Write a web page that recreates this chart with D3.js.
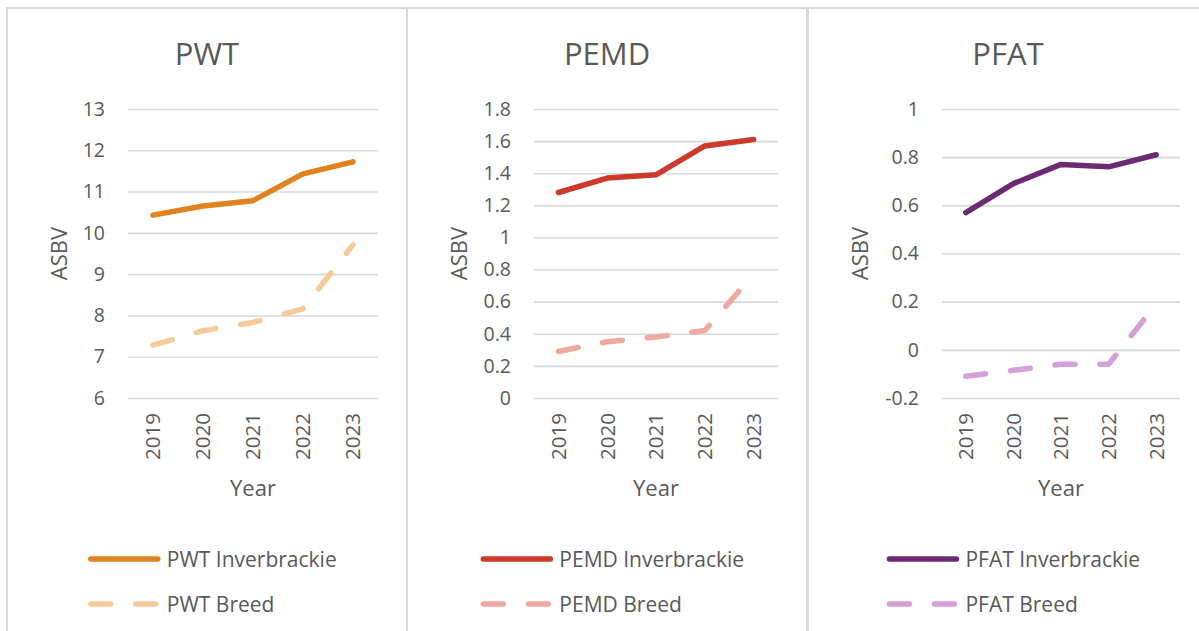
<!DOCTYPE html>
<html>
<head>
<meta charset="utf-8">
<script src="https://cdn.jsdelivr.net/npm/d3@7"></script>
<style>
  html, body { margin: 0; padding: 0; background: #fff; }
  svg { display: block; }
  text { font-family: "Open Sans", Lato, sans-serif; fill: #595959; }
</style>
</head>
<body>
<svg id="chart" width="1199" height="631"></svg>
<script>
// Year categories shared by all three panels
const years = ["2019", "2020", "2021", "2022", "2023"];

// Post-weaning weight (PWT)
const pwtInverbrackie = [10.43, 10.65, 10.78, 11.43, 11.72];
const pwtBreed = [7.28, 7.63, 7.83, 8.16, 9.71];

// Post-weaning eye muscle depth (PEMD)
const pemdInverbrackie = [1.28, 1.37, 1.39, 1.57, 1.61];
const pemdBreed = [0.29, 0.35, 0.38, 0.42, 0.77];

// Post-weaning fat (PFAT)
const pfatInverbrackie = [0.57, 0.69, 0.77, 0.76, 0.81];
const pfatBreed = [-0.11, -0.085, -0.06, -0.06, 0.19];

// Axis ticks per panel
const pwtTicks = [6, 7, 8, 9, 10, 11, 12, 13];
const pemdTicks = [0, 0.2, 0.4, 0.6, 0.8, 1, 1.2, 1.4, 1.6, 1.8];
const pfatTicks = [-0.2, 0, 0.2, 0.4, 0.6, 0.8, 1];

const panels = [
  { title: "PWT", ticks: pwtTicks, inv: pwtInverbrackie, breed: pwtBreed,
    invColor: "#e0821f", breedColor: "#f7ca9b" },
  { title: "PEMD", ticks: pemdTicks, inv: pemdInverbrackie, breed: pemdBreed,
    invColor: "#cd392a", breedColor: "#efa9a1" },
  { title: "PFAT", ticks: pfatTicks, inv: pfatInverbrackie, breed: pfatBreed,
    invColor: "#6b2b73", breedColor: "#d59fd8" }
];

// Layout: panel boxes and plot-area offsets inside each box
const panelLeft = [7, 407, 808];
const panelWidth = 400;
const plotOffset = [[121, 371], [127, 371], [134, 372]];
const plotTop = 109, plotBottom = 398;
const FONT = "'Open Sans', Lato, sans-serif";

const svg = d3.select("#chart");
svg.append("rect").attr("width", 1199).attr("height", 631).attr("fill", "#fff");

const fmt = v => String(+v.toFixed(2));

panels.forEach((p, i) => {
  const left = panelLeft[i];
  const cx = left + panelWidth / 2;
  const g = svg.append("g");

  // panel border
  g.append("rect")
    .attr("x", left).attr("y", 8)
    .attr("width", panelWidth).attr("height", 700)
    .attr("fill", "none").attr("stroke", "#d9d9d9").attr("stroke-width", 2);

  const x = d3.scaleBand()
    .domain(years)
    .range([left + plotOffset[i][0], left + plotOffset[i][1]]);
  const y = d3.scaleLinear()
    .domain(d3.extent(p.ticks))
    .range([plotBottom, plotTop]);

  // gridlines and value labels
  const yAxis = d3.axisLeft(y).tickValues(p.ticks).tickFormat(fmt)
    .tickSize(-(x.range()[1] - x.range()[0])).tickPadding(23);
  const ya = g.append("g")
    .attr("transform", `translate(${x.range()[0]},0)`)
    .call(yAxis);
  ya.select(".domain").remove();
  ya.selectAll(".tick line").attr("stroke", "#d9d9d9").attr("stroke-width", 1.6);
  ya.selectAll(".tick text")
    .attr("fill", "#595959").attr("font-size", 19.5)
    .attr("font-family", FONT);

  // year labels, rotated
  const xa = g.append("g")
    .attr("transform", `translate(0,${plotBottom})`)
    .call(d3.axisBottom(x).tickSize(0).tickPadding(0));
  xa.select(".domain").remove();
  xa.selectAll(".tick text")
    .attr("fill", "#595959").attr("font-size", 20.5)
    .attr("font-family", FONT)
    .attr("text-anchor", "end")
    .attr("transform", "translate(0,15) rotate(-90)")
    .attr("x", 0).attr("y", 0).attr("dy", "0.36em");

  // titles
  g.append("text")
    .attr("x", cx).attr("y", 65)
    .attr("text-anchor", "middle").attr("font-size", 31)
    .text(p.title);

  g.append("text")
    .attr("transform", `translate(${left + 52},${(plotTop + plotBottom) / 2}) rotate(-90)`)
    .attr("text-anchor", "middle").attr("dy", "0.36em").attr("font-size", 22)
    .text("ASBV");

  g.append("text")
    .attr("x", (x.range()[0] + x.range()[1]) / 2).attr("y", 496)
    .attr("text-anchor", "middle").attr("font-size", 22)
    .text("Year");

  // series lines
  const line = d3.line()
    .x((d, j) => x(years[j]) + x.bandwidth() / 2)
    .y(d => y(d));

  g.append("path")
    .datum(p.breed)
    .attr("d", line)
    .attr("fill", "none").attr("stroke", p.breedColor)
    .attr("stroke-width", 5.5)
    .attr("stroke-linecap", "round").attr("stroke-linejoin", "round")
    .attr("stroke-dasharray", "20,25");

  g.append("path")
    .datum(p.inv)
    .attr("d", line)
    .attr("fill", "none").attr("stroke", p.invColor)
    .attr("stroke-width", 5.5)
    .attr("stroke-linecap", "round").attr("stroke-linejoin", "round");

  // legend
  const leg = g.append("g");
  const entries = [
    { name: `${p.title} Inverbrackie`, color: p.invColor, dash: null, y: 559 },
    { name: `${p.title} Breed`, color: p.breedColor, dash: "20,25", y: 604 }
  ];
  entries.forEach(e => {
    leg.append("line")
      .attr("x1", 0).attr("x2", 67).attr("y1", e.y).attr("y2", e.y)
      .attr("stroke", e.color).attr("stroke-width", 5.5)
      .attr("stroke-linecap", "round")
      .attr("stroke-dasharray", e.dash);
    leg.append("text")
      .attr("x", 76).attr("y", e.y + 8)
      .attr("font-size", 21)
      .text(e.name);
  });
  const bb = leg.node().getBBox();
  leg.attr("transform", `translate(${cx + 4 - bb.width / 2 + 2.75},0)`);
});
</script>
</body>
</html>
